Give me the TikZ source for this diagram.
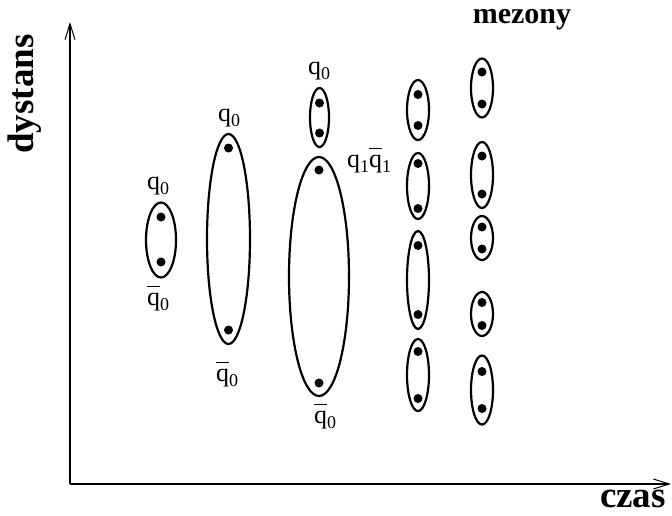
\documentclass[tikz,border=0pt]{standalone}
\usepackage{fontspec}
\setmainfont{Liberation Serif}
\usetikzlibrary{shapes.geometric,arrows.meta}
\newcommand{\qsub}[1]{\raisebox{-5pt}{\fontsize{18}{18}\selectfont #1}}
\newcommand{\qq}[1]{q\qsub{#1}}
\newcommand{\qbar}[1]{$\overline{\mbox{q\vphantom{l}}}$\qsub{#1}}

\begin{document}
\begin{tikzpicture}[x=1pt,y=-1pt]
    \tikzstyle{blob} = [ellipse, draw, line width=2.2pt, inner sep=0pt]
    \tikzstyle{dot} = [circle, fill, inner sep=0pt, minimum size=9pt]
    \tikzstyle{lbl} = [font=\fontsize{26}{28}\selectfont, inner sep=0pt]
    \tikzstyle{axlbl} = [font=\fontsize{37}{40}\selectfont\bfseries, inner sep=0pt]
    \tikzstyle{axis} = [line width=2.2pt, -{Straight Barb[length=16pt,width=10pt,line width=1pt]}]
    \useasboundingbox (0,0) rectangle (672,515);
    % axes
    \coordinate (origin) at (70,484);
    \coordinate (ytip) at (70,22);
    \coordinate (xtip) at (671,484);
    \draw [axis] (origin) -- (ytip);
    \draw [axis] (origin) -- (xtip);
    \node [axlbl, rotate=90] (dist) at (25,94) {dystans};
    \node [axlbl] (time) at (633,499) {czas};
    \node [font=\fontsize{30}{32}\selectfont\bfseries, inner sep=0pt] (mes) at (522,20) {mezony};
    % first pair
    \node [blob, minimum width=30pt, minimum height=75pt] (e1) at (161,240) {};
    \node [dot] (e1t) at (161,217) {};
    \node [dot] (e1b) at (161,262) {};
    \node [lbl] (q1) at (158,186) {\qq{0}};
    \node [lbl] (qb1) at (158,298) {\qbar{0}};
    % stretched string
    \node [blob, minimum width=43pt, minimum height=210pt] (e2) at (228.5,239) {};
    \node [dot] (e2t) at (228.5,148) {};
    \node [dot] (e2b) at (228.5,330) {};
    \node [lbl] (q2) at (229,118) {\qq{0}};
    \node [lbl] (qb2) at (227,374) {\qbar{0}};
    % string breaks
    \node [blob, minimum width=19pt, minimum height=59pt] (e3a) at (319.5,117.5) {};
    \node [dot] (e3at) at (319.5,103) {};
    \node [dot] (e3ab) at (319.5,133) {};
    \node [blob, minimum width=60pt, minimum height=239pt] (e3b) at (319,276.5) {};
    \node [dot] (e3bt) at (319,170) {};
    \node [dot] (e3bb) at (319,383) {};
    \node [lbl] (q3) at (319,71) {\qq{0}};
    \node [lbl] (q3b) at (369,160) {\qq{1}\qbar{1}};
    \node [lbl] (qb3) at (325,416) {\qbar{0}};
    % mesons
    \foreach \n/\x/\y/\ry/\dy in {m1/418/110/30/15.5, m2/418/186/33/22.5, m3/418/280/49/34.5, m4/418/375/36/23.5,
                                 m5/482/88/29.5/16, m6/482/175/33/19, m7/482/238/22/11, m8/482/314/22/11.5, m9/482/390/34.5/18.5}
    {
      \node [blob, minimum width=22pt, minimum height=2*\ry pt] (\n) at (\x,\y) {};
      \node [dot] (\n t) at (\x,\y-\dy) {};
      \node [dot] (\n b) at (\x,\y+\dy) {};
    }
\end{tikzpicture}
\end{document}
